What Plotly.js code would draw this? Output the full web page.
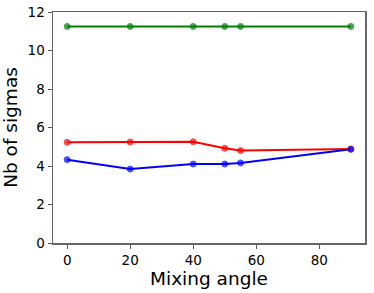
<!DOCTYPE html>
<html><head><meta charset="utf-8">
<script src="https://cdn.plot.ly/plotly-3.0.1.min.js"></script>
<style>html,body{margin:0;padding:0;background:#fff}#c{width:374px;height:293px}</style>
</head><body><div id="c"></div>
<script>
const angles = [0, 20, 40, 50, 55, 90];
const greenVals = [11.25, 11.25, 11.25, 11.25, 11.25, 11.25];
const redVals = [5.23, 5.25, 5.26, 4.92, 4.80, 4.88];
const blueVals = [4.33, 3.84, 4.10, 4.10, 4.16, 4.87];
const xTicks = [0, 20, 40, 60, 80];
const yTicks = [0, 2, 4, 6, 8, 10, 12];

function tr(y, color) {
  return {x: angles, y: y, type: 'scatter', mode: 'lines+markers',
    line: {color: color, width: 2},
    marker: {color: color, size: 6, opacity: 0.7, line: {color: color, width: 1}},
    showlegend: false};
}
const font = {family: 'DejaVu Sans', size: 13.5, color: '#000'};
const tfont = {family: 'DejaVu Sans', size: 18.5, color: '#000'};
const layout = {
  width: 374, height: 293,
  margin: {l: 53, r: 9, t: 12, b: 50},
  paper_bgcolor: '#fff', plot_bgcolor: '#fff',
  xaxis: {range: [-4.5, 94.5], tickvals: xTicks, ticks: 'outside', ticklen: 4, tickcolor: '#555',
    showline: true, mirror: true, linecolor: '#666', linewidth: 1.5, showgrid: false, zeroline: false,
    tickfont: font, title: {text: 'Mixing angle', font: tfont, standoff: 3}},
  yaxis: {range: [0, 12], tickvals: yTicks, ticks: 'outside', ticklen: 4, tickcolor: '#555',
    showline: true, mirror: true, linecolor: '#666', linewidth: 1.5, showgrid: false, zeroline: false,
    tickfont: font, title: {text: 'Nb of sigmas', font: tfont, standoff: 5}}
};
Plotly.newPlot('c', [tr(greenVals, 'green'), tr(redVals, 'red'), tr(blueVals, 'blue')], layout, {staticPlot: true, displayModeBar: false});
</script></body></html>
